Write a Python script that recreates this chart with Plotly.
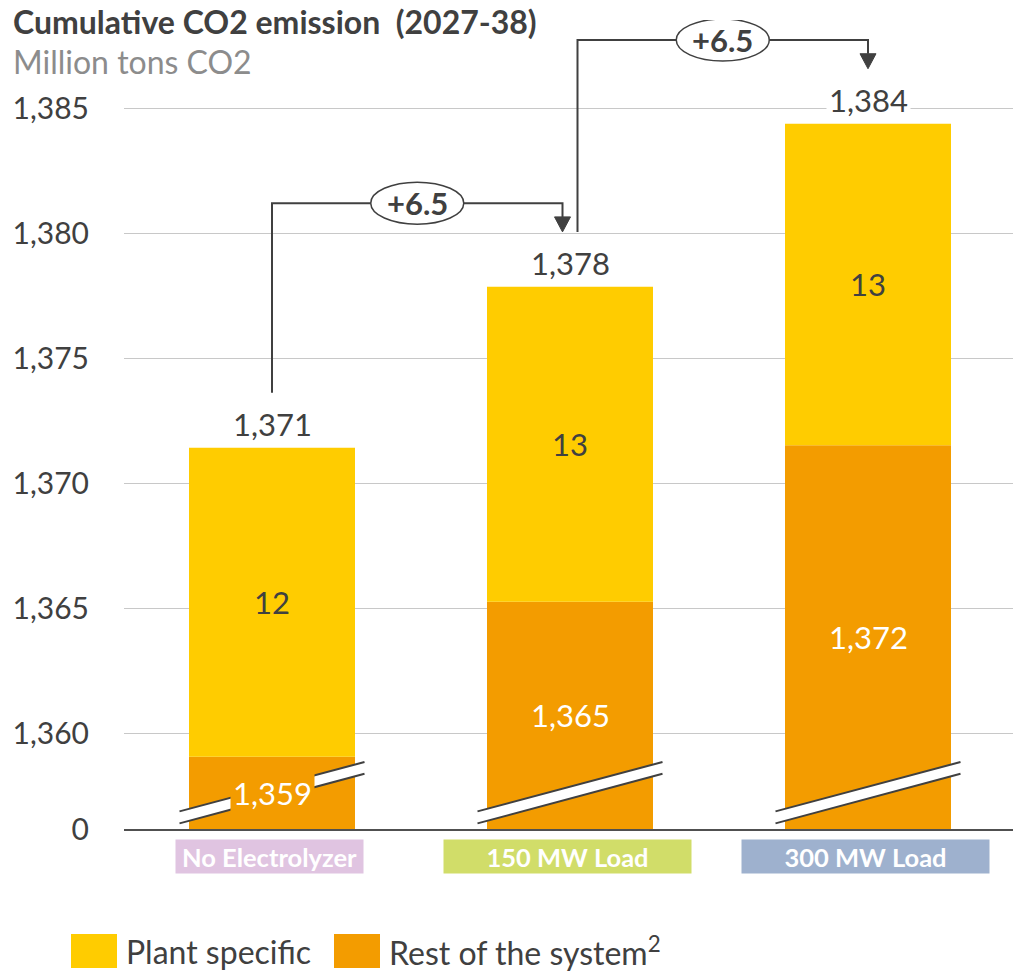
import plotly.graph_objects as go

# ---------------- data ----------------
categories = ["No Electrolyzer", "150 MW Load", "300 MW Load"]
category_colors = ["#E0C4E1", "#D1DD69", "#9EB1CE"]
rest_of_system = [1359.05, 1365.26, 1371.52]
plant_specific = [12.37, 12.60, 12.87]
delta_labels = ["+6.5", "+6.5"]
tick_values = [1360, 1365, 1370, 1375, 1380, 1385]
tick_labels = ["1,360", "1,365", "1,370", "1,375", "1,380", "1,385"]
axis_break_label = "0"
series_names = ["Plant specific", "Rest of the system<sup>2</sup>"]

# ---------------- styling / layout constants ----------------
YELLOW = "#FFCC00"
ORANGE = "#F39C00"
DARK = "#404040"
GRID = "#C8C8C8"
FONT = "Lato"

W, H = 1013, 973
ML, MR, MT, MB = 124, 0, 20, 144
PW, PH = W - ML - MR, H - MT - MB
PX_PER_Y = 24.984          # pixels per million ton
PX_PER_X = 298.0           # pixels per category step
Y_FLOOR = 1356.16          # value shown at the broken axis bottom ("0")
Y_TOP = Y_FLOOR + PH / PX_PER_Y
X0 = -(148.0 / PX_PER_X)
X1 = X0 + PW / PX_PER_X
BAR_W = 166.0 / PX_PER_X

xs = list(range(len(categories)))
totals = [r + p for r, p in zip(rest_of_system, plant_specific)]


def dx(px):
    return px / PX_PER_X


def dy(px):
    return px / PX_PER_Y


def paper_x(px):
    return (px - ML) / PW


def paper_y(py):
    return (H - MB - py) / PH


fig = go.Figure()
fig.add_trace(go.Bar(
    x=xs, y=[r - Y_FLOOR for r in rest_of_system], base=Y_FLOOR,
    width=BAR_W, marker=dict(color=ORANGE, line=dict(width=0)),
    name=series_names[1], hoverinfo="skip", showlegend=False,
))
fig.add_trace(go.Bar(
    x=xs, y=plant_specific, base=rest_of_system,
    width=BAR_W, marker=dict(color=YELLOW, line=dict(width=0)),
    name=series_names[0], hoverinfo="skip", showlegend=False,
    texttemplate="%{y:.0f}", textposition="inside", insidetextanchor="middle",
    textfont=dict(family=FONT, size=31, color=DARK), constraintext="none",
))

shapes = []
annotations = []

# axis-break marks on each bar
for x in xs:
    xl, xr = x - dx(92.5), x + dx(92.5)
    lo_l, up_l = Y_FLOOR + dy(5.6), Y_FLOOR + dy(17.6)
    lo_r, up_r = Y_FLOOR + dy(55.3), Y_FLOOR + dy(67.0)
    shapes.append(dict(type="path", xref="x", yref="y",
                       path=f"M {xl},{lo_l} L {xr},{lo_r} L {xr},{up_r} L {xl},{up_l} Z",
                       fillcolor="white", line=dict(width=0)))
    shapes.append(dict(type="line", xref="x", yref="y", x0=xl, y0=lo_l, x1=xr, y1=lo_r,
                       line=dict(color=DARK, width=2)))
    shapes.append(dict(type="line", xref="x", yref="y", x0=xl, y0=up_l, x1=xr, y1=up_r,
                       line=dict(color=DARK, width=2)))

# rest-of-system labels (with bar-coloured background so they sit over the break)
for x, r in zip(xs, rest_of_system):
    annotations.append(dict(x=x, y=(Y_FLOOR + r) / 2, xref="x", yref="y",
                            text=f"{r:,.0f}", showarrow=False, bgcolor=ORANGE,
                            borderpad=2, font=dict(family=FONT, size=31, color="white")))

# total labels above the bars
for x, t in zip(xs, totals):
    annotations.append(dict(x=x, y=t, xref="x", yref="y", yanchor="middle", yshift=24,
                            text=f"{t:,.0f}", showarrow=False, bgcolor="white",
                            borderpad=2, font=dict(family=FONT, size=31, color=DARK)))

# difference brackets
for i, lab in enumerate(delta_labels):
    xs_start = xs[i] + (dx(7.5) if i > 0 else 0)
    xs_end = xs[i + 1] - (dx(7.5) if i + 1 < len(xs) - 1 else 0)
    y_start = totals[i] + 2.2
    y_top = totals[i + 1] + 3.35
    y_tip = totals[i + 1] + 2.2
    ah, aw = dy(15), dx(8)
    shapes.append(dict(type="path", xref="x", yref="y",
                       path=(f"M {xs_start},{y_start} L {xs_start},{y_top} "
                             f"L {xs_end},{y_top} L {xs_end},{y_tip + ah}"),
                       line=dict(color=DARK, width=2)))
    shapes.append(dict(type="path", xref="x", yref="y",
                       path=(f"M {xs_end - aw},{y_tip + ah} L {xs_end + aw},{y_tip + ah} "
                             f"L {xs_end},{y_tip} Z"),
                       fillcolor=DARK, line=dict(color=DARK, width=1)))
    xc = (xs_start + xs_end) / 2
    shapes.append(dict(type="circle", xref="x", yref="y",
                       x0=xc - dx(46.5), x1=xc + dx(46.5),
                       y0=y_top - dy(21), y1=y_top + dy(21),
                       fillcolor="white", line=dict(color=DARK, width=1.5)))
    annotations.append(dict(x=xc, y=y_top, xref="x", yref="y", text=f"<b>{lab}</b>",
                            showarrow=False, font=dict(family=FONT, size=31, color=DARK)))

# category labels as coloured boxes
for x, cat, col in zip(xs, categories, category_colors):
    annotations.append(dict(x=x, y=paper_y(856), xref="x", yref="paper", xshift=-3,
                            yanchor="middle",
                            text=f"<b>{cat}</b>", showarrow=False, bgcolor=col,
                            width=(185 if x == 0 else 245), height=31, borderpad=1,
                            font=dict(family=FONT, size=25.5, color="white")))

# title & subtitle
annotations.append(dict(x=paper_x(11), y=paper_y(0), xref="paper", yref="paper",
                        xanchor="left", yanchor="top", showarrow=False,
                        text="<b>Cumulative CO2 emission \u00a0(2027-38)</b>",
                        font=dict(family=FONT, size=32, color=DARK)))
annotations.append(dict(x=paper_x(11), y=paper_y(40), xref="paper", yref="paper",
                        xanchor="left", yanchor="top", showarrow=False,
                        text="Million tons CO2",
                        font=dict(family=FONT, size=32, color="#8C8C8C")))

# custom legend
legend_items = [(series_names[0], YELLOW, 71), (series_names[1], ORANGE, 334)]
for name, col, left in legend_items:
    shapes.append(dict(type="rect", xref="paper", yref="paper",
                       x0=paper_x(left), x1=paper_x(left + 46),
                       y0=paper_y(968), y1=paper_y(934),
                       fillcolor=col, line=dict(width=0)))
    annotations.append(dict(x=paper_x(left + 53), y=paper_y(951), xref="paper", yref="paper",
                            xanchor="left", yanchor="middle", showarrow=False, text=name,
                            font=dict(family=FONT, size=32, color=DARK)))

fig.update_layout(
    width=W, height=H,
    margin=dict(l=ML, r=MR, t=MT, b=MB, pad=0),
    paper_bgcolor="white", plot_bgcolor="white",
    barmode="overlay", showlegend=False,
    font=dict(family=FONT, color=DARK),
    shapes=shapes, annotations=annotations,
    xaxis=dict(range=[X0, X1], showgrid=False, zeroline=False, showticklabels=False,
               showline=True, linecolor="#505050", linewidth=2, ticks="",
               automargin=False, fixedrange=True),
    yaxis=dict(range=[Y_FLOOR, Y_TOP], tickvals=[Y_FLOOR] + tick_values,
               ticktext=[axis_break_label] + tick_labels,
               showgrid=True, gridcolor=GRID, gridwidth=1, zeroline=False,
               showline=False, ticks="", ticklabelstandoff=34,
               tickfont=dict(family=FONT, size=30, color=DARK),
               automargin=False, fixedrange=True),
)

fig.write_html("out.html")
